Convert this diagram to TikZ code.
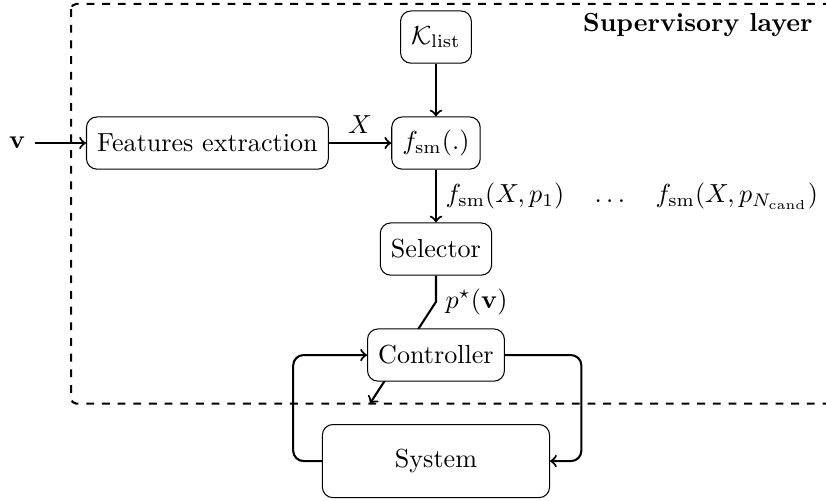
\documentclass[tikz,border=0pt]{standalone}
\usepackage{tikz}
\usetikzlibrary{positioning,calc,backgrounds}
\tikzset{
  >=To,
  box/.style={draw,rounded corners=4pt,fill=white,align=center,inner xsep=4.1pt,inner ysep=3.33pt,minimum height=20pt},
  sysbox/.style={box,minimum width=87pt,minimum height=28pt},
  arrow/.style={->,thick},
  layer/.style={dashed,thick,rounded corners=2pt},
  title/.style={font=\bfseries,anchor=north east},
}
\begin{document}
\begin{tikzpicture}[node distance=7.1mm and 8.4mm]
\useasboundingbox (-167pt,14.2pt) rectangle (149.4pt,-177.7pt);
\node[box] (klist) at (0,0) {$\mathcal{K}_{\mathrm{list}}$};
\node[box,below=of klist] (fsm) {$f_{\mathrm{sm}}(.)$};
\node[box,left=of fsm] (feat) {Features extraction};
\node[left=6.9mm of feat] (v) {$\mathbf{v}$};
\node[box,below=of fsm] (sel) {Selector};
\node[box,below=of sel] (ctrl) {Controller};
\node[sysbox,below=5.7mm of ctrl] (sys) {System};
\coordinate (swend) at ($(ctrl.south)+(-25.3pt,-8.4pt)$);
% supervisory layer
\draw[layer] ($(feat.west |- klist.north)+(-5.7pt,2.5pt)$) rectangle ($(ctrl.south)+(170pt,-8.4pt)$);
\node[title] (suplbl) at ($(klist.center)+(147.8pt,12.6pt)$) {Supervisory layer};
% signal path
\draw[arrow] (v) -- (feat);
\draw[arrow] (feat) -- node[above]{$X$} (fsm);
\draw[arrow] (klist) -- (fsm);
\draw[arrow] (fsm) -- node[right]{$f_{\mathrm{sm}}(X,p_1)\quad\dots\quad f_{\mathrm{sm}}(X,p_{N_{\mathrm{cand}}})$} (sel);
\begin{scope}[on background layer]
\draw[arrow] (sel.south) -- ++(0,-10pt) node[right]{$p^\star(\mathbf{v})$} -- (swend);
\end{scope}
% feedback loop
\draw[arrow,rounded corners=4pt] (ctrl.east) -| ($(sys.east)+(12pt,0)$) -- (sys.east);
\draw[arrow,rounded corners=4pt] (sys.west) -- ++(-11pt,0) |- (ctrl.west);
\end{tikzpicture}
\end{document}
